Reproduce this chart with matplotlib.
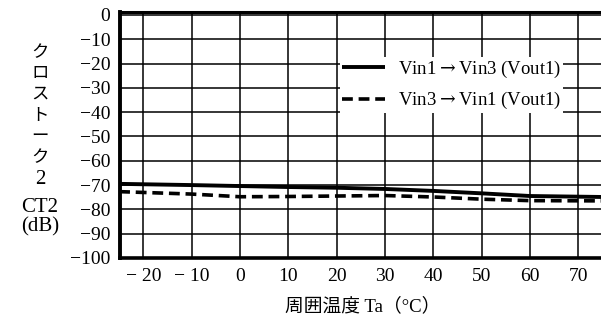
import matplotlib
matplotlib.use("Agg")
import matplotlib.pyplot as plt
import numpy as np
from matplotlib.ticker import FixedLocator, FixedFormatter

# ---- data ----
temp_solid = [-25, -10, 0, 10, 20, 30, 40, 50, 60, 75]
ct2_solid = [-69.5, -70.0, -70.4, -70.8, -71.1, -71.6, -72.4, -73.4, -74.5, -74.9]
temp_dash = [-25, -10, 0, 10, 20, 30, 40, 50, 60, 75]
ct2_dash = [-72.7, -73.7, -74.8, -74.7, -74.5, -74.3, -74.9, -75.8, -76.4, -76.5]
label_solid = "Vin1$\\rightarrow$Vin3 (Vout1)"
label_dash = "Vin3$\\rightarrow$Vin1 (Vout1)"

x_ticks = [-20, -10, 0, 10, 20, 30, 40, 50, 60, 70]
x_ticklabels = ["− 20", "− 10", "0", "10", "20", "30", "40", "50", "60", "70"]
y_ticks = [0, -10, -20, -30, -40, -50, -60, -70, -80, -90, -100]
y_ticklabels = ["0", "−10", "−20", "−30", "−40", "−50", "−60", "−70", "−80", "−90", "−100"]
ylabel_vertical = "クロストーク"
ylabel_num = "2"
ylabel_ct = "CT2"
ylabel_unit = "(dB)"
xlabel = "周囲温度 Ta（°C）"

plt.rcParams["mathtext.fontset"] = "dejavuserif"
serif = ["Liberation Serif", "DejaVu Serif"]
mixed = ["Liberation Serif", "Noto Sans CJK JP", "DejaVu Sans"]
cjk = ["Noto Sans CJK JP", "DejaVu Sans"]

W, H = 601, 325
fig = plt.figure(figsize=(W / 100, H / 100), dpi=100)
ax = fig.add_axes([120 / W, 1 - 258 / H, 1 - 120 / W, (258 - 12) / H])

ax.set_xlim(-24.82, 74.7)
ax.set_ylim(-100, 1.2)

ax.xaxis.set_major_locator(FixedLocator(x_ticks))
ax.xaxis.set_major_formatter(FixedFormatter(x_ticklabels))
ax.yaxis.set_major_locator(FixedLocator(y_ticks))
ax.yaxis.set_major_formatter(FixedFormatter(y_ticklabels))
ax.tick_params(length=0, pad=7)
for lab in ax.get_xticklabels() + ax.get_yticklabels():
    lab.set_family(serif)
    lab.set_fontsize(14)
    lab.set_color("black")

ax.grid(True, color="black", linewidth=1.1)
ax.set_axisbelow(True)

ax.spines["left"].set_linewidth(2.8)
ax.spines["bottom"].set_linewidth(2.6)
ax.spines["top"].set_linewidth(2.2)
ax.spines["right"].set_visible(False)

ax.plot(temp_solid, ct2_solid, color="black", linewidth=2.8, label=label_solid,
        solid_capstyle="butt")
ax.plot(temp_dash, ct2_dash, color="black", linewidth=2.6, linestyle=(0, (3, 1.6)),
        label=label_dash)

leg = ax.legend(loc="upper left", bbox_to_anchor=((340 - 120) / 481, (258 - 57) / 246),
                frameon=True, fancybox=False, framealpha=1, facecolor="white",
                edgecolor="none", borderpad=0.1, handlelength=2.3, handletextpad=0.7,
                labelspacing=0.55, prop={"family": serif, "size": 13.5},
                borderaxespad=0)

# y label (vertical Japanese)
ys = [52, 73, 94, 115, 136, 157]
for ch, yy in zip(ylabel_vertical, ys):
    fig.text(40 / W, 1 - yy / H, ch, family=cjk, fontsize=12.5, ha="center", va="center")
fig.text(40 / W, 1 - 180 / H, ylabel_num, family=serif, fontsize=15, ha="center", va="center")
fig.text(40 / W, 1 - 207 / H, ylabel_ct, family=serif, fontsize=15, ha="center", va="center")
fig.text(40 / W, 1 - 227 / H, ylabel_unit, family=serif, fontsize=15, ha="center", va="center")

fig.text(363 / W, 1 - 306 / H, xlabel, family=mixed, fontsize=13.5, ha="center", va="center")

fig.savefig("out.png", dpi=100, facecolor="white")
